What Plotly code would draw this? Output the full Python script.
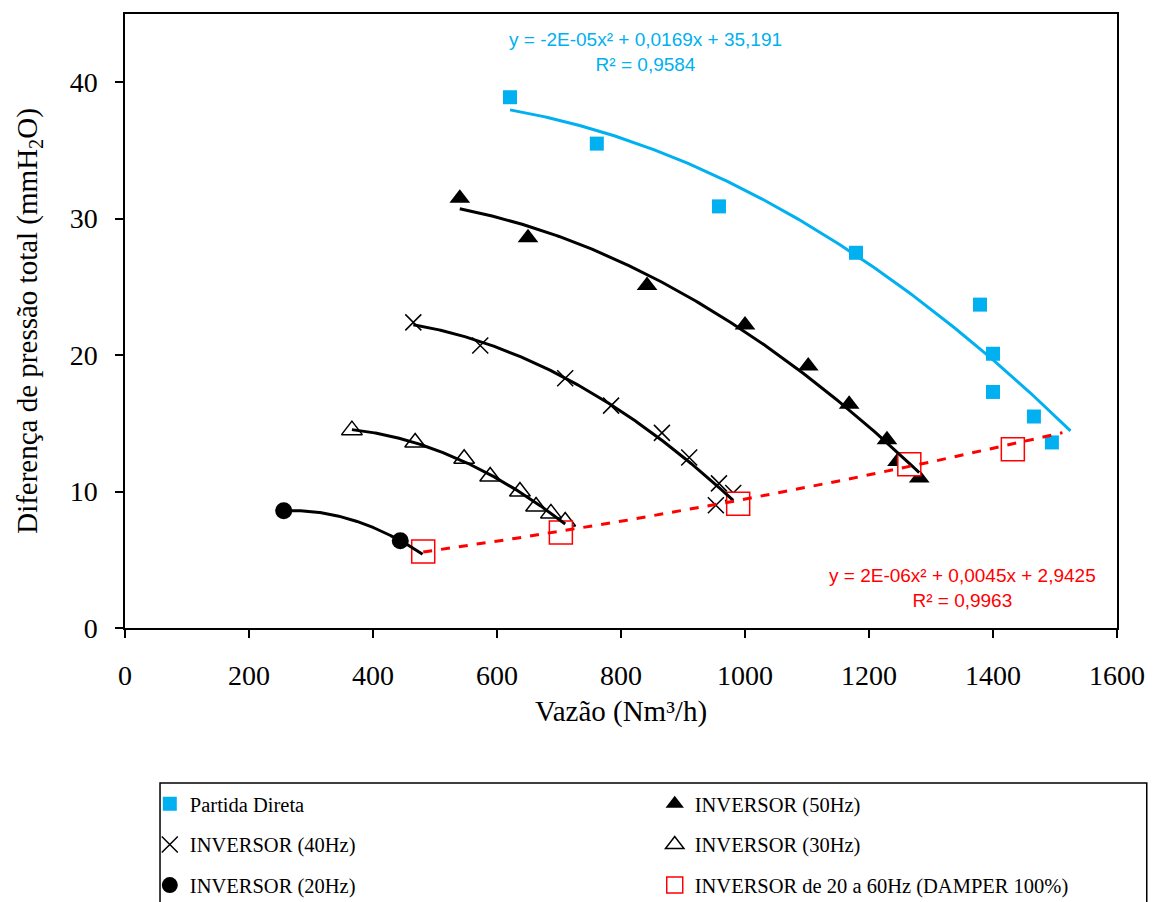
import numpy as np
import plotly.graph_objects as go

# ---------------- data ----------------
pd_x = [621, 761, 958, 1179, 1379, 1400, 1400, 1466, 1495]
pd_y = [38.9, 35.5, 30.9, 27.5, 23.7, 20.1, 17.3, 15.5, 13.6]

i50_x = [540, 650, 842, 1000, 1102, 1168, 1229, 1246, 1281]
i50_y = [31.5, 28.6, 25.1, 22.2, 19.2, 16.4, 13.8, 12.2, 11.0]

i40_x = [465, 573, 710, 784, 866, 910, 958, 981, 953]
i40_y = [22.4, 20.7, 18.3, 16.3, 14.3, 12.5, 10.6, 9.9, 9.0]

i30_x = [366, 468, 547, 589, 637, 663, 687, 710]
i30_y = [14.5, 13.6, 12.4, 11.1, 10.0, 8.9, 8.4, 7.8]

i20_x = [256, 444, 480]
i20_y = [8.6, 6.4, 5.4]

dmp_x = [481, 703, 989, 1265, 1432]
dmp_y = [5.6, 7.0, 9.1, 12.0, 13.1]

# printed trendline equations (coefficients a, b, c of a*x^2 + b*x + c)
pd_coef = [-2e-05, 0.0169, 35.191]
dmp_coef = [2e-06, 0.0045, 2.9425]
pd_forward = 30
dmp_forward = 80

x_ticks = [0, 200, 400, 600, 800, 1000, 1200, 1400, 1600]
y_ticks = [0, 10, 20, 30, 40]

BLUE = "#00B0F0"
RED = "#FF0000"
SERIF = "Liberation Serif, Times New Roman, serif"
SANS = "Liberation Sans, Arial, sans-serif"

fig = go.Figure()

def add_markers(x, y, name, marker, legend, group):
    fig.add_trace(go.Scatter(x=x, y=y, mode="markers", name=name, marker=marker,
                             legend=legend, legendgroup=group, showlegend=True))

def add_trend(x0, x1, coef, color, dash, group, legend):
    xs = np.linspace(x0, x1, 200)
    ys = np.polyval(coef, xs)
    fig.add_trace(go.Scatter(x=xs, y=ys, mode="lines", line=dict(color=color, width=3, dash=dash),
                             showlegend=False, legendgroup=group, legend=legend, hoverinfo="skip"))

add_markers(pd_x, pd_y, "Partida Direta",
            dict(symbol="square", size=14, color=BLUE), "legend", "pd")
add_markers(i50_x, i50_y, "INVERSOR (50Hz)",
            dict(symbol="triangle-up", size=18, color="black"), "legend2", "i50")
add_markers(i40_x, i40_y, "INVERSOR (40Hz)",
            dict(symbol="x-thin", size=16, color="black", line=dict(color="black", width=1.5)), "legend", "i40")
add_markers(i30_x, i30_y, "INVERSOR (30Hz)",
            dict(symbol="triangle-up-open", size=18, color="black", line=dict(color="black", width=1.5)), "legend2", "i30")
add_markers(i20_x, i20_y, "INVERSOR (20Hz)",
            dict(symbol="circle", size=17, color="black"), "legend", "i20")
add_markers(dmp_x, dmp_y, "INVERSOR de 20 a 60Hz (DAMPER 100%)",
            dict(symbol="square", size=23, color="white", line=dict(color=RED, width=1.5)), "legend2", "dmp")

# trendlines (drawn over markers, like the original)
add_trend(min(pd_x), max(pd_x) + pd_forward, pd_coef, BLUE, "solid", "pd", "legend")
for xs_, ys_, g, lg in [(i50_x, i50_y, "i50", "legend2"), (i40_x, i40_y, "i40", "legend"),
                        (i30_x, i30_y, "i30", "legend2"), (i20_x, i20_y, "i20", "legend")]:
    c = np.polyfit(xs_, ys_, 2)
    add_trend(min(xs_), max(xs_), c, "black", "solid", g, lg)
add_trend(min(dmp_x), max(dmp_x) + dmp_forward, dmp_coef, RED, "dash", "dmp", "legend2")

tick_font = dict(family=SERIF, size=28, color="black")
title_font = dict(family=SERIF, size=29, color="black")
legend_font = dict(family=SERIF, size=20.5, color="black")
fig.update_layout(
    width=1156, height=902,
    margin=dict(l=125, r=39, t=14, b=274, autoexpand=False),
    plot_bgcolor="white", paper_bgcolor="white",
    xaxis=dict(range=[0, 1600], tickvals=x_ticks, ticktext=[str(v) for v in x_ticks],
               ticks="outside", ticklen=8, tickcolor="black", tickwidth=1.5,
               showline=True, linecolor="black", linewidth=1.5, mirror=True, automargin=False,
               showgrid=False, zeroline=False, tickfont=tick_font, ticklabelstandoff=14,
               title=dict(text="Vazão (Nm³/h)", font=title_font, standoff=10)),
    yaxis=dict(range=[0, 45], tickvals=y_ticks, ticktext=[str(v) for v in y_ticks],
               ticks="outside", ticklen=8, tickcolor="black", tickwidth=1.5,
               showline=True, linecolor="black", linewidth=1.5, mirror=True, automargin=False,
               showgrid=False, zeroline=False, tickfont=tick_font, ticklabelstandoff=12,
               title=dict(text="Diferença de pressão total (mmH<sub>2</sub>O)", font=title_font, standoff=24)),
    legend=dict(x=0.025, y=-0.254, xanchor="left", yanchor="top", orientation="v",
                traceorder="grouped", tracegroupgap=11, bgcolor="rgba(0,0,0,0)",
                font=legend_font, itemwidth=30),
    legend2=dict(x=0.534, y=-0.254, xanchor="left", yanchor="top", orientation="v",
                 traceorder="grouped", tracegroupgap=11, bgcolor="rgba(0,0,0,0)",
                 font=legend_font, itemwidth=30),
    shapes=[dict(type="rect", xref="paper", yref="paper", x0=0.0353, x1=1.030, y0=-0.47, y1=-0.2524,
                 line=dict(color="black", width=1.5), fillcolor="rgba(0,0,0,0)")],
    annotations=[
        dict(x=839, y=42.2, xref="x", yref="y", showarrow=False, align="center",
             text="y = -2E-05x² + 0,0169x + 35,191<br>R² = 0,9584",
             font=dict(family=SANS, size=19, color=BLUE)),
        dict(x=1350, y=2.9, xref="x", yref="y", showarrow=False, align="center",
             text="y = 2E-06x² + 0,0045x + 2,9425<br>R² = 0,9963",
             font=dict(family=SANS, size=19, color=RED)),
    ],
)

fig.write_html("out.html")
